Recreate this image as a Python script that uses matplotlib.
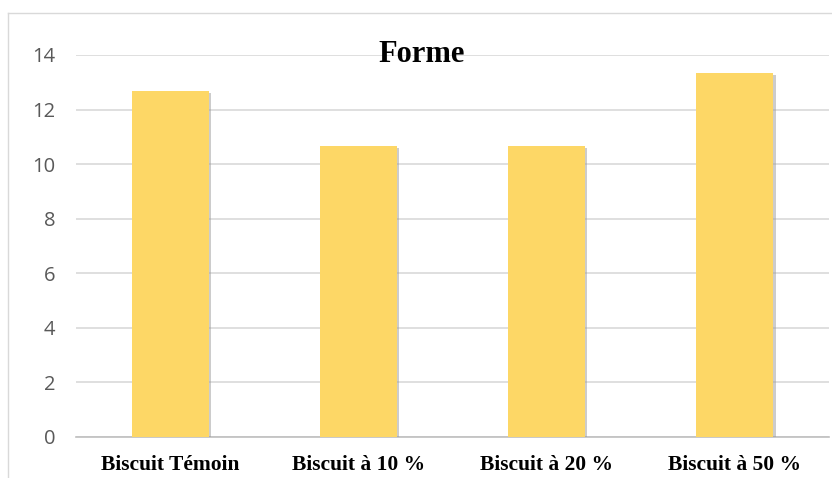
"""Bar chart: Forme des biscuits."""
import matplotlib.pyplot as plt
import matplotlib.patheffects as pe
from matplotlib.lines import Line2D

# data
categories = ['Biscuit Témoin', 'Biscuit à 10 %', 'Biscuit à 20 %', 'Biscuit à 50 %']
values = [12.67, 10.67, 10.67, 13.33]
y_ticks = [0, 2, 4, 6, 8, 10, 12, 14]

fig = plt.figure(figsize=(8.32, 4.78), dpi=100)
ax = fig.add_axes([76 / 832, 41 / 478, 753 / 832, 382 / 478])

# bars with a soft shadow like the office chart
bars = ax.bar(range(len(categories)), values, width=0.41, color='#FDD766', zorder=3)
for b in bars:
    b.set_path_effects([pe.SimplePatchShadow(offset=(1.5, -1.5), shadow_rgbFace='#9a9a9a', alpha=0.5),
                        pe.Normal()])

ax.set_xlim(-0.5, len(categories) - 0.5)
ax.set_ylim(0, 14)
ax.set_yticks(y_ticks)
ax.set_yticklabels([str(t) for t in y_ticks], fontsize=14.5, color='#595959', family='Open Sans')
ax.set_xticks(range(len(categories)))
ax.set_xticklabels(categories, fontsize=15.5, fontweight='bold', family='Liberation Serif')

# gridlines and bottom line
ax.grid(axis='y', color='#d9d9d9', linewidth=1.2, zorder=0)
ax.set_axisbelow(True)
for s in ['top', 'right', 'left']:
    ax.spines[s].set_visible(False)
ax.spines['bottom'].set_color('#bfbfbf')
ax.spines['bottom'].set_linewidth(1.2)
ax.tick_params(axis='both', length=0)
ax.tick_params(axis='y', pad=15)
ax.tick_params(axis='x', pad=13)

# title inside the plot area
fig.text(422 / 832, 1 - 55 / 478, 'Forme', fontsize=22, fontweight='bold',
         family='Liberation Serif', ha='center', va='center')

# chart frame (only top and left edges visible)
fig.add_artist(Line2D([8 / 832, 8 / 832], [0, 1 - 13 / 478], transform=fig.transFigure,
                      color='#d9d9d9', linewidth=1))
fig.add_artist(Line2D([8 / 832, 1], [1 - 13 / 478, 1 - 13 / 478], transform=fig.transFigure,
                      color='#d9d9d9', linewidth=1))

fig.savefig('out.png', dpi=100)
